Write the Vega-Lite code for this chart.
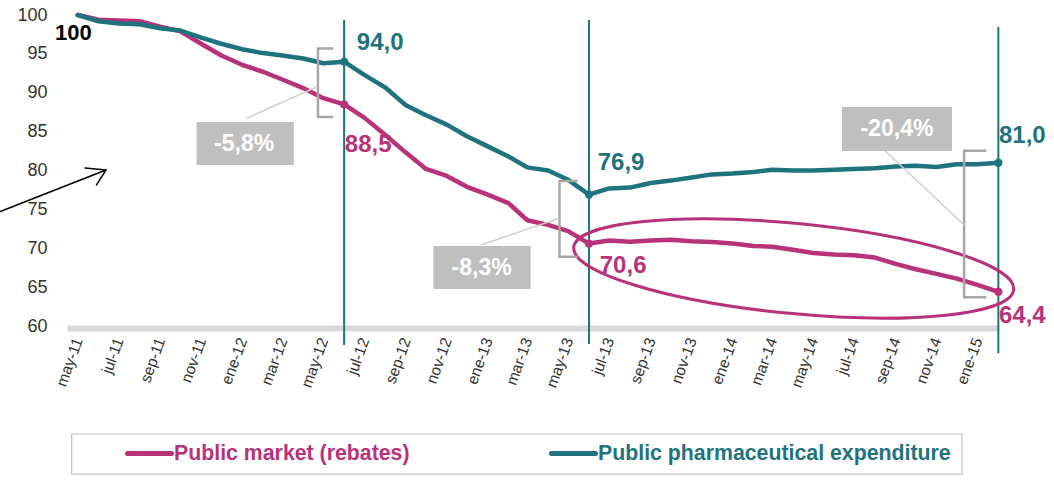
{
  "$schema": "https://vega.github.io/schema/vega-lite/v6.json",
  "width": 932,
  "height": 311,
  "autosize": {"type": "none"},
  "padding": {"left": 67, "top": 15, "right": 55, "bottom": 156},
  "background": "#ffffff",
  "config": {
    "view": {"stroke": null},
    "font": "Liberation Sans",
    "axis": {"labelOverlap": false},
    "axisY": {"labelFontSize": 18, "labelColor": "#333333", "labelPadding": 20, "labelOverlap": false, "labelBound": false, "labelFlush": false, "ticks": false, "domain": false, "grid": false, "title": null}
  },
  "datasets": {
    "series": [
      {"date": "2011-05-01", "series": "Public market (rebates)", "value": 100},
      {"date": "2011-06-01", "series": "Public market (rebates)", "value": 99.4},
      {"date": "2011-07-01", "series": "Public market (rebates)", "value": 99.3},
      {"date": "2011-08-01", "series": "Public market (rebates)", "value": 99.2},
      {"date": "2011-09-01", "series": "Public market (rebates)", "value": 98.5},
      {"date": "2011-10-01", "series": "Public market (rebates)", "value": 97.9},
      {"date": "2011-11-01", "series": "Public market (rebates)", "value": 96.3},
      {"date": "2011-12-01", "series": "Public market (rebates)", "value": 94.8},
      {"date": "2012-01-01", "series": "Public market (rebates)", "value": 93.6},
      {"date": "2012-02-01", "series": "Public market (rebates)", "value": 92.7},
      {"date": "2012-03-01", "series": "Public market (rebates)", "value": 91.7},
      {"date": "2012-04-01", "series": "Public market (rebates)", "value": 90.6},
      {"date": "2012-05-01", "series": "Public market (rebates)", "value": 89.3},
      {"date": "2012-06-01", "series": "Public market (rebates)", "value": 88.5},
      {"date": "2012-07-01", "series": "Public market (rebates)", "value": 86.8},
      {"date": "2012-08-01", "series": "Public market (rebates)", "value": 84.6},
      {"date": "2012-09-01", "series": "Public market (rebates)", "value": 82.3},
      {"date": "2012-10-01", "series": "Public market (rebates)", "value": 80.2},
      {"date": "2012-11-01", "series": "Public market (rebates)", "value": 79.3},
      {"date": "2012-12-01", "series": "Public market (rebates)", "value": 77.9},
      {"date": "2013-01-01", "series": "Public market (rebates)", "value": 76.9},
      {"date": "2013-02-01", "series": "Public market (rebates)", "value": 75.8},
      {"date": "2013-03-01", "series": "Public market (rebates)", "value": 73.6},
      {"date": "2013-04-01", "series": "Public market (rebates)", "value": 73.0},
      {"date": "2013-05-01", "series": "Public market (rebates)", "value": 72.2},
      {"date": "2013-06-01", "series": "Public market (rebates)", "value": 70.6},
      {"date": "2013-07-01", "series": "Public market (rebates)", "value": 71.0},
      {"date": "2013-08-01", "series": "Public market (rebates)", "value": 70.85},
      {"date": "2013-09-01", "series": "Public market (rebates)", "value": 71.0},
      {"date": "2013-10-01", "series": "Public market (rebates)", "value": 71.1},
      {"date": "2013-11-01", "series": "Public market (rebates)", "value": 70.9},
      {"date": "2013-12-01", "series": "Public market (rebates)", "value": 70.8},
      {"date": "2014-01-01", "series": "Public market (rebates)", "value": 70.6},
      {"date": "2014-02-01", "series": "Public market (rebates)", "value": 70.3},
      {"date": "2014-03-01", "series": "Public market (rebates)", "value": 70.2},
      {"date": "2014-04-01", "series": "Public market (rebates)", "value": 69.8},
      {"date": "2014-05-01", "series": "Public market (rebates)", "value": 69.4},
      {"date": "2014-06-01", "series": "Public market (rebates)", "value": 69.2},
      {"date": "2014-07-01", "series": "Public market (rebates)", "value": 69.1},
      {"date": "2014-08-01", "series": "Public market (rebates)", "value": 68.8},
      {"date": "2014-09-01", "series": "Public market (rebates)", "value": 68.0},
      {"date": "2014-10-01", "series": "Public market (rebates)", "value": 67.3},
      {"date": "2014-11-01", "series": "Public market (rebates)", "value": 66.7},
      {"date": "2014-12-01", "series": "Public market (rebates)", "value": 66.1},
      {"date": "2015-01-01", "series": "Public market (rebates)", "value": 65.3},
      {"date": "2015-02-01", "series": "Public market (rebates)", "value": 64.4},
      {"date": "2011-05-01", "series": "Public pharmaceutical expenditure", "value": 100},
      {"date": "2011-06-01", "series": "Public pharmaceutical expenditure", "value": 99.2},
      {"date": "2011-07-01", "series": "Public pharmaceutical expenditure", "value": 98.9},
      {"date": "2011-08-01", "series": "Public pharmaceutical expenditure", "value": 98.8},
      {"date": "2011-09-01", "series": "Public pharmaceutical expenditure", "value": 98.3},
      {"date": "2011-10-01", "series": "Public pharmaceutical expenditure", "value": 98.0},
      {"date": "2011-11-01", "series": "Public pharmaceutical expenditure", "value": 97.1},
      {"date": "2011-12-01", "series": "Public pharmaceutical expenditure", "value": 96.3},
      {"date": "2012-01-01", "series": "Public pharmaceutical expenditure", "value": 95.6},
      {"date": "2012-02-01", "series": "Public pharmaceutical expenditure", "value": 95.1},
      {"date": "2012-03-01", "series": "Public pharmaceutical expenditure", "value": 94.8},
      {"date": "2012-04-01", "series": "Public pharmaceutical expenditure", "value": 94.4},
      {"date": "2012-05-01", "series": "Public pharmaceutical expenditure", "value": 93.8},
      {"date": "2012-06-01", "series": "Public pharmaceutical expenditure", "value": 94.0},
      {"date": "2012-07-01", "series": "Public pharmaceutical expenditure", "value": 92.3},
      {"date": "2012-08-01", "series": "Public pharmaceutical expenditure", "value": 90.7},
      {"date": "2012-09-01", "series": "Public pharmaceutical expenditure", "value": 88.4},
      {"date": "2012-10-01", "series": "Public pharmaceutical expenditure", "value": 87.1},
      {"date": "2012-11-01", "series": "Public pharmaceutical expenditure", "value": 85.9},
      {"date": "2012-12-01", "series": "Public pharmaceutical expenditure", "value": 84.4},
      {"date": "2013-01-01", "series": "Public pharmaceutical expenditure", "value": 83.1},
      {"date": "2013-02-01", "series": "Public pharmaceutical expenditure", "value": 81.8},
      {"date": "2013-03-01", "series": "Public pharmaceutical expenditure", "value": 80.4},
      {"date": "2013-04-01", "series": "Public pharmaceutical expenditure", "value": 80.0},
      {"date": "2013-05-01", "series": "Public pharmaceutical expenditure", "value": 78.8},
      {"date": "2013-06-01", "series": "Public pharmaceutical expenditure", "value": 76.9},
      {"date": "2013-07-01", "series": "Public pharmaceutical expenditure", "value": 77.7},
      {"date": "2013-08-01", "series": "Public pharmaceutical expenditure", "value": 77.8},
      {"date": "2013-09-01", "series": "Public pharmaceutical expenditure", "value": 78.4},
      {"date": "2013-10-01", "series": "Public pharmaceutical expenditure", "value": 78.7},
      {"date": "2013-11-01", "series": "Public pharmaceutical expenditure", "value": 79.1},
      {"date": "2013-12-01", "series": "Public pharmaceutical expenditure", "value": 79.5},
      {"date": "2014-01-01", "series": "Public pharmaceutical expenditure", "value": 79.6},
      {"date": "2014-02-01", "series": "Public pharmaceutical expenditure", "value": 79.8},
      {"date": "2014-03-01", "series": "Public pharmaceutical expenditure", "value": 80.1},
      {"date": "2014-04-01", "series": "Public pharmaceutical expenditure", "value": 80.0},
      {"date": "2014-05-01", "series": "Public pharmaceutical expenditure", "value": 80.0},
      {"date": "2014-06-01", "series": "Public pharmaceutical expenditure", "value": 80.1},
      {"date": "2014-07-01", "series": "Public pharmaceutical expenditure", "value": 80.2},
      {"date": "2014-08-01", "series": "Public pharmaceutical expenditure", "value": 80.3},
      {"date": "2014-09-01", "series": "Public pharmaceutical expenditure", "value": 80.5},
      {"date": "2014-10-01", "series": "Public pharmaceutical expenditure", "value": 80.6},
      {"date": "2014-11-01", "series": "Public pharmaceutical expenditure", "value": 80.45},
      {"date": "2014-12-01", "series": "Public pharmaceutical expenditure", "value": 80.8},
      {"date": "2015-01-01", "series": "Public pharmaceutical expenditure", "value": 80.8},
      {"date": "2015-02-01", "series": "Public pharmaceutical expenditure", "value": 81.0}
    ],
    "points": [
      {"date": "2012-06-01", "series": "Public market (rebates)", "value": 88.5},
      {"date": "2012-06-01", "series": "Public pharmaceutical expenditure", "value": 94.0},
      {"date": "2013-06-01", "series": "Public market (rebates)", "value": 70.6},
      {"date": "2013-06-01", "series": "Public pharmaceutical expenditure", "value": 76.9},
      {"date": "2015-02-01", "series": "Public market (rebates)", "value": 64.4},
      {"date": "2015-02-01", "series": "Public pharmaceutical expenditure", "value": 81.0}
    ],
    "labels": [
      {"date": "2012-06-20", "value": 95.5, "label": "94,0", "series": "Public pharmaceutical expenditure"},
      {"date": "2012-06-02", "value": 82.38, "label": "88,5", "series": "Public market (rebates)"},
      {"date": "2013-06-14", "value": 80.06, "label": "76,9", "series": "Public pharmaceutical expenditure"},
      {"date": "2013-06-17", "value": 66.82, "label": "70,6", "series": "Public market (rebates)"},
      {"date": "2015-02-02", "value": 83.54, "label": "81,0", "series": "Public pharmaceutical expenditure"},
      {"date": "2015-02-02", "value": 60.39, "label": "64,4", "series": "Public market (rebates)"}
    ],
    "vrules": [
      {"date": "2012-06-01", "value": 99.36, "bottom": 57.56},
      {"date": "2013-06-01", "value": 99.36, "bottom": 57.7},
      {"date": "2015-02-01", "value": 98.46, "bottom": 56.5}
    ],
    "ellipse": [{"date": "2014-04-02", "value": 67.4}],
    "arrow": [
      {"x": "2011-01-02", "y": 74.6, "x2": "2011-06-12", "y2": 80.06},
      {"x": "2011-06-12", "y": 80.06, "x2": "2011-05-12", "y2": 80.32},
      {"x": "2011-06-12", "y": 80.06, "x2": "2011-05-29", "y2": 78.14}
    ],
    "brackets": [
      {"b": 1, "o": 1, "date": "2012-05-16", "value": 95.69},
      {"b": 1, "o": 2, "date": "2012-04-23", "value": 95.69},
      {"b": 1, "o": 3, "date": "2012-04-23", "value": 86.88},
      {"b": 1, "o": 4, "date": "2012-05-16", "value": 86.88},
      {"b": 2, "o": 1, "date": "2013-05-15", "value": 78.65},
      {"b": 2, "o": 2, "date": "2013-04-18", "value": 78.65},
      {"b": 2, "o": 3, "date": "2013-04-18", "value": 68.91},
      {"b": 2, "o": 4, "date": "2013-05-15", "value": 68.91},
      {"b": 3, "o": 1, "date": "2015-01-14", "value": 82.55},
      {"b": 3, "o": 2, "date": "2014-12-12", "value": 82.55},
      {"b": 3, "o": 3, "date": "2014-12-12", "value": 63.69},
      {"b": 3, "o": 4, "date": "2015-01-14", "value": 63.69}
    ],
    "connectors": [
      {"x": "2012-01-07", "y": 86.71, "x2": "2012-04-20", "y2": 90.7},
      {"x": "2012-12-22", "y": 70.42, "x2": "2013-04-18", "y2": 73.85},
      {"x": "2014-08-15", "y": 82.64, "x2": "2014-12-12", "y2": 72.99}
    ],
    "boxes": [
      {"x": "2011-10-25", "x2": "2012-03-18", "y": 86.24, "y2": 80.71, "label": "-5,8%", "cx": "2012-01-04", "cy": 83.47},
      {"x": "2012-10-12", "x2": "2013-03-06", "y": 70.29, "y2": 64.76, "label": "-8,3%", "cx": "2012-12-23", "cy": 67.52},
      {"x": "2014-06-13", "x2": "2014-11-24", "y": 88.17, "y2": 82.51, "label": "-20,4%", "cx": "2014-09-03", "cy": 85.34}
    ],
    "start": [{"date": "2011-03-28", "value": 96.78, "label": "100"}],
    "legendbox": [{"x": "2011-04-22", "x2": "2014-12-09", "y": 46.11, "y2": 40.96}]
  },
  "layer": [
    {
      "data": {"name": "vrules"},
      "mark": {"type": "rule", "color": "#1E737E", "strokeWidth": 2},
      "encoding": {
        "x": {"field": "date", "type": "temporal"},
        "y": {
          "field": "value",
          "type": "quantitative",
          "scale": {"domain": [60, 100], "nice": false, "zero": false},
          "axis": {"title": null, "values": [60, 65, 70, 75, 80, 85, 90, 95, 100], "labelOverlap": false, "labelFontSize": 18, "labelColor": "#333333", "tickCount": 9}
        },
        "y2": {"field": "bottom"}
      }
    },
    {
      "data": {"name": "series"},
      "mark": {"type": "line", "strokeWidth": 4.5, "strokeCap": "round", "strokeJoin": "round"},
      "encoding": {
        "x": {
          "field": "date",
          "type": "temporal",
          "scale": {"type": "utc", "domain": [{"year": 2011, "month": 4, "date": 15, "utc": true}, {"year": 2015, "month": 2, "date": 2, "utc": true}]},
          "axis": {
            "title": null,
            "tickCount": {"interval": "month", "step": 2},
            "labelExpr": "['ene','feb','mar','abr','may','jun','jul','ago','sep','oct','nov','dic'][utcmonth(datum.value)] + '-' + utcFormat(datum.value, '%y')",
            "labelAngle": -70,
            "labelFontSize": 15.5,
            "labelFont": "Liberation Sans",
            "labelColor": "#333333",
            "labelPadding": 10,
            "offset": 2,
            "ticks": false,
            "grid": false,
            "domainColor": "#d9d9d9",
            "domainWidth": 6,
            "labelFlush": false,
            "labelOverlap": false,
            "labelBound": false
          }
        },
        "y": {
          "field": "value",
          "type": "quantitative",
          "scale": {"domain": [60, 100], "nice": false, "zero": false},
          "axis": {"title": null, "values": [60, 65, 70, 75, 80, 85, 90, 95, 100], "labelOverlap": false, "labelFontSize": 18, "labelColor": "#333333", "tickCount": 9}
        },
        "color": {
          "field": "series",
          "type": "nominal",
          "scale": {"domain": ["Public market (rebates)", "Public pharmaceutical expenditure"], "range": ["#B8327A", "#1E737E"]},
          "legend": {
            "orient": "none",
            "legendX": 58,
            "legendY": 414,
            "direction": "horizontal",
            "columns": 2,
            "columnPadding": 131,
            "padding": 0,
            "title": null,
            "symbolType": "stroke",
            "symbolSize": 1936,
            "symbolStrokeWidth": 5,
            "labelFontSize": 21.3,
            "labelFont": "Liberation Sans",
            "labelFontWeight": "bold",
            "labelOffset": 0,
            "labelLimit": 0,
            "encode": {
              "labels": {"update": {"fill": {"scale": "color", "field": "value"}}},
              "symbols": {"update": {"strokeCap": {"value": "round"}}}
            }
          }
        }
      }
    },
    {
      "data": {"name": "points"},
      "mark": {"type": "point", "filled": true, "size": 70, "opacity": 1},
      "encoding": {
        "x": {"field": "date", "type": "temporal"},
        "y": {"field": "value", "type": "quantitative"},
        "fill": {"field": "series", "type": "nominal", "scale": {"domain": ["Public market (rebates)", "Public pharmaceutical expenditure"], "range": ["#B8327A", "#1E737E"]}, "legend": null}
      }
    },
    {
      "data": {"name": "ellipse"},
      "mark": {"type": "point", "shape": "M-1,0A1,0.204,0,1,1,1,0A1,0.204,0,1,1,-1,0Z", "size": 195364, "angle": 5.5, "filled": false, "stroke": "#B8327A", "strokeWidth": 3, "opacity": 1},
      "encoding": {
        "x": {"field": "date", "type": "temporal"},
        "y": {"field": "value", "type": "quantitative"}
      }
    },
    {
      "data": {"name": "arrow"},
      "mark": {"type": "rule", "color": "#000000", "strokeWidth": 1.5, "strokeCap": "round"},
      "encoding": {
        "x": {"field": "x", "type": "temporal"},
        "y": {"field": "y", "type": "quantitative"},
        "x2": {"field": "x2"},
        "y2": {"field": "y2"}
      }
    },
    {
      "data": {"name": "brackets"},
      "mark": {"type": "line", "color": "#a6a6a6", "strokeWidth": 2.5},
      "encoding": {
        "x": {"field": "date", "type": "temporal"},
        "y": {"field": "value", "type": "quantitative"},
        "detail": {"field": "b", "type": "nominal"},
        "order": {"field": "o", "type": "quantitative"}
      }
    },
    {
      "data": {"name": "connectors"},
      "mark": {"type": "rule", "color": "#d0d0d0", "strokeWidth": 1.5},
      "encoding": {
        "x": {"field": "x", "type": "temporal"},
        "y": {"field": "y", "type": "quantitative"},
        "x2": {"field": "x2"},
        "y2": {"field": "y2"}
      }
    },
    {
      "data": {"name": "boxes"},
      "mark": {"type": "rect", "color": "#bfbfbf"},
      "encoding": {
        "x": {"field": "x", "type": "temporal"},
        "x2": {"field": "x2"},
        "y": {"field": "y", "type": "quantitative"},
        "y2": {"field": "y2"}
      }
    },
    {
      "data": {"name": "boxes"},
      "mark": {"type": "text", "color": "#ffffff", "fontSize": 23, "fontWeight": "bold", "font": "Liberation Sans", "align": "center", "baseline": "middle"},
      "encoding": {
        "x": {"field": "cx", "type": "temporal"},
        "y": {"field": "cy", "type": "quantitative"},
        "text": {"field": "label"}
      }
    },
    {
      "data": {"name": "labels"},
      "mark": {"type": "text", "fontSize": 24, "fontWeight": "bold", "font": "Liberation Sans", "align": "left", "baseline": "alphabetic"},
      "encoding": {
        "x": {"field": "date", "type": "temporal"},
        "y": {"field": "value", "type": "quantitative"},
        "text": {"field": "label"},
        "fill": {"field": "series", "type": "nominal", "legend": null}
      }
    },
    {
      "data": {"name": "start"},
      "mark": {"type": "text", "fontSize": 22, "fontWeight": "bold", "font": "Liberation Sans", "align": "left", "baseline": "alphabetic", "color": "#000000"},
      "encoding": {
        "x": {"field": "date", "type": "temporal"},
        "y": {"field": "value", "type": "quantitative"},
        "text": {"field": "label"}
      }
    },
    {
      "data": {"name": "legendbox"},
      "mark": {"type": "rect", "fill": null, "stroke": "#c0c0c0", "strokeWidth": 1.2},
      "encoding": {
        "x": {"field": "x", "type": "temporal"},
        "x2": {"field": "x2"},
        "y": {"field": "y", "type": "quantitative"},
        "y2": {"field": "y2"}
      }
    }
  ]
}
